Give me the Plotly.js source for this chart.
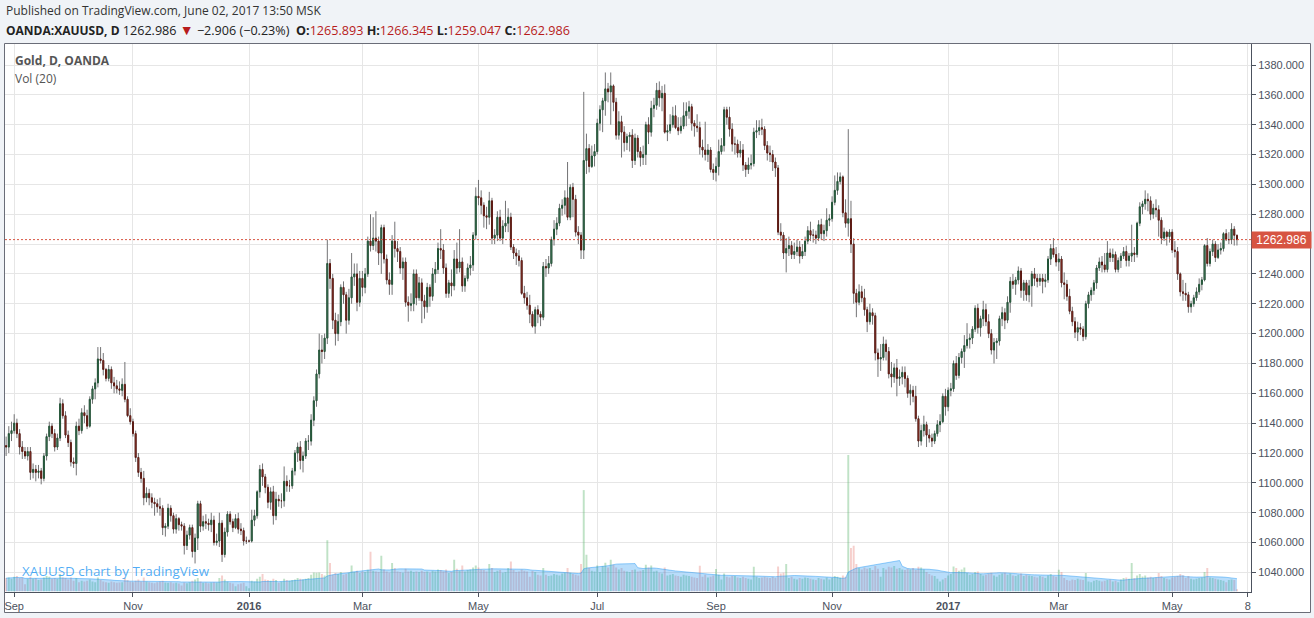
<!DOCTYPE html>
<html><head><meta charset="utf-8">
<script src="https://cdn.plot.ly/plotly-3.0.1.min.js"></script>
<style>html,body{margin:0;padding:0;background:#f0f3f7;}#chart{width:1314px;height:618px;}</style>
</head><body><div id="chart"></div>
<script>
// Daily OANDA XAUUSD bars, 2015-08-27 .. 2017-06-02 (one row per month)
const openP = [
1125,1124,1133,
1135,1140,1133,1124,1121,1118,1121,1107,1109,1107,1108,1103,1118,1131,1138,1133,1124,1130,1153,1145,1132,1127,
1114,1113,1138,1135,1147,1145,1138,1156,1163,1167,1183,1182,1176,1170,1176,1167,1165,1163,1162,1166,1156,1145,
1141,1133,1117,1107,1103,1090,1093,1090,1087,1086,1084,1083,1070,1071,1083,1078,1069,1076,1072,1071,1058,
1065,1070,1054,1063,1086,1071,1074,1073,1072,1075,1060,1061,1073,1052,1067,1079,1074,1070,1076,1069,1068,1061,
1061,1061,1075,1078,1094,1109,1104,1097,1087,1094,1078,1089,1088,1088,1101,1098,1098,1108,1120,1124,1115,
1118,1128,1128,1142,1155,1173,1189,1188,1197,1247,1237,1209,1200,1208,1231,1226,1209,1224,1238,1240,1221,
1237,1231,1240,1262,1259,1264,1262,1254,1271,1250,1236,1233,1262,1257,1255,1244,1248,1221,1219,1220,1240,1224,
1234,1222,1218,1231,1225,1240,1243,1257,1256,1244,1227,1234,1232,1250,1244,1248,1232,1237,1244,1246,1266,
1292,1291,1286,1279,1278,1289,1264,1266,1278,1264,1272,1274,1278,1258,1254,1252,1249,1227,1224,1219,1213,1205,
1216,1213,1211,1245,1244,1247,1263,1270,1274,1284,1286,1291,1278,1298,1290,1268,1266,1256,1316,1324,1312,1319,
1322,1341,1350,1356,1364,1362,1366,1355,1333,1342,1335,1328,1332,1333,1316,1331,1322,1318,1320,1340,1335,
1351,1353,1363,1358,1361,1335,1336,1340,1346,1338,1336,1339,1346,1349,1352,1341,1339,1338,1325,1323,1320,1323,1310,
1308,1312,1322,1326,1350,1345,1337,1327,1327,1321,1323,1313,1310,1313,1314,1335,1336,1338,1337,1326,1321,1320,
1315,1311,1268,1266,1254,1257,1259,1253,1255,1258,1252,1255,1262,1269,1266,1266,1264,1273,1267,1269,1276,
1277,1288,1296,1302,1305,1281,1274,1277,1260,1227,1221,1228,1224,1216,1208,1214,1212,1187,1183,1184,1193,1188,
1173,1171,1177,1170,1171,1174,1170,1160,1162,1158,1143,1128,1135,1139,1132,1130,1128,1133,1139,1141,1158,
1151,1162,1163,1180,1172,1184,1188,1192,1196,1197,1203,1217,1204,1210,1216,1208,1200,1189,1194,1195,1210,
1214,1209,1221,1235,1233,1236,1242,1229,1234,1226,1232,1240,1237,1235,1237,1235,1236,1250,1257,1253,
1248,1250,1234,1233,1225,1215,1208,1201,1204,1203,1198,1220,1226,1229,1234,1244,1248,1246,1243,1254,1251,1253,1243,
1249,1252,1255,1249,1252,1254,1253,1274,1285,1287,1290,1289,1280,1284,1283,1276,1264,1268,1265,
1268,1256,1255,1240,1228,1227,1226,1218,1220,1224,1228,1233,1236,1259,1247,1255,1260,1251,1256,1257,1267,1263,1263,
1270,1265.893];
const highP = [
1131,1138,1141,
1146,1143,1136,1128,1124,1124,1124,1113,1112,1112,1110,1120,1133,1141,1140,1136,1133,1157,1156,1148,1135,1129,
1117,1141,1143,1150,1152,1149,1158,1165,1170,1191,1191,1187,1177,1179,1178,1171,1169,1168,1170,1181,1158,1150,
1143,1135,1120,1110,1108,1097,1096,1093,1090,1089,1090,1085,1073,1086,1085,1080,1079,1077,1074,1073,1068,
1072,1072,1066,1088,1088,1078,1079,1076,1080,1078,1066,1080,1075,1070,1081,1081,1076,1079,1080,1073,1070,1064,
1062,1082,1082,1095,1112,1113,1106,1099,1097,1098,1094,1092,1093,1111,1105,1102,1110,1122,1127,1128,1121,
1130,1132,1146,1158,1176,1200,1199,1200,1263,1250,1240,1214,1213,1233,1235,1228,1230,1254,1247,1247,1242,
1242,1244,1265,1280,1278,1282,1265,1273,1273,1253,1241,1266,1275,1262,1258,1251,1251,1225,1227,1243,1243,1238,
1237,1226,1234,1233,1244,1248,1261,1270,1260,1247,1236,1243,1256,1261,1270,1251,1239,1247,1252,1268,1298,
1303,1296,1288,1285,1295,1291,1270,1282,1283,1276,1289,1284,1281,1260,1257,1256,1251,1232,1228,1226,1215,1218,
1219,1215,1248,1250,1252,1265,1276,1278,1287,1290,1296,1315,1300,1301,1293,1272,1268,1362,1334,1327,1326,1327,
1344,1353,1358,1375,1368,1375,1367,1358,1349,1346,1339,1334,1335,1337,1334,1333,1325,1326,1342,1345,1356,
1358,1368,1369,1366,1367,1340,1347,1352,1353,1345,1345,1355,1355,1356,1354,1343,1347,1342,1330,1342,1327,1325,1314,
1318,1330,1331,1352,1352,1352,1341,1332,1330,1329,1327,1315,1318,1320,1338,1343,1343,1344,1339,1329,1326,1323,
1318,1313,1274,1268,1264,1265,1262,1261,1263,1262,1260,1265,1272,1275,1270,1269,1276,1277,1273,1284,1280,
1292,1306,1308,1308,1306,1290,1337,1289,1264,1230,1233,1232,1230,1218,1220,1217,1214,1190,1193,1198,1196,1191,
1181,1180,1183,1176,1178,1178,1172,1166,1165,1165,1145,1139,1145,1141,1136,1133,1135,1142,1146,1160,1163,
1164,1167,1182,1185,1187,1190,1199,1207,1200,1205,1219,1220,1212,1222,1220,1213,1203,1197,1197,1212,1218,
1217,1225,1238,1240,1238,1245,1244,1236,1236,1236,1242,1244,1240,1240,1240,1240,1252,1260,1264,1258,
1254,1252,1241,1236,1230,1218,1211,1208,1207,1205,1222,1228,1231,1236,1246,1251,1252,1254,1262,1257,1257,1255,1251,
1254,1258,1259,1254,1273,1258,1275,1288,1289,1296,1294,1292,1287,1290,1286,1278,1271,1269,1270,
1270,1262,1258,1241,1236,1234,1228,1222,1226,1231,1237,1238,1260,1264,1257,1263,1262,1260,1261,1268,1270,1268,1274,
1272,1266.345];
const lowP = [
1118,1120,1128,
1133,1130,1119,1116,1116,1115,1102,1103,1101,1103,1099,1101,1115,1128,1130,1121,1122,1128,1143,1130,1124,1111,
1110,1105,1132,1133,1140,1136,1137,1153,1156,1164,1180,1172,1168,1168,1163,1160,1160,1159,1158,1154,1144,1139,
1131,1114,1104,1100,1085,1087,1085,1083,1078,1080,1078,1065,1064,1069,1074,1066,1066,1068,1068,1052,1055,
1062,1050,1046,1055,1067,1068,1069,1068,1067,1058,1058,1057,1047,1050,1064,1072,1067,1069,1066,1065,1058,1059,
1060,1060,1071,1076,1090,1098,1093,1083,1082,1072,1075,1084,1083,1084,1094,1094,1096,1105,1114,1109,1107,
1116,1122,1125,1138,1151,1170,1180,1183,1193,1230,1203,1192,1195,1205,1220,1200,1206,1220,1232,1215,1218,
1225,1227,1238,1255,1256,1255,1246,1240,1247,1233,1226,1226,1251,1248,1240,1236,1218,1208,1215,1215,1219,1222,
1207,1210,1214,1218,1222,1234,1240,1250,1240,1224,1224,1225,1229,1240,1241,1228,1228,1235,1239,1242,1263,
1286,1280,1271,1270,1273,1260,1260,1262,1262,1260,1268,1268,1256,1250,1246,1245,1226,1220,1216,1207,1204,1200,
1207,1205,1209,1238,1240,1245,1259,1266,1272,1279,1280,1276,1276,1278,1265,1260,1250,1250,1307,1308,1311,1312,
1320,1336,1335,1346,1355,1340,1349,1330,1330,1318,1322,1323,1322,1311,1313,1318,1312,1313,1313,1327,1332,
1345,1350,1352,1349,1334,1329,1334,1338,1337,1333,1334,1337,1339,1344,1336,1332,1335,1320,1318,1316,1315,1308,1303,
1302,1306,1320,1322,1340,1332,1322,1320,1318,1318,1309,1305,1307,1310,1312,1331,1333,1333,1323,1316,1315,1309,
1305,1266,1262,1250,1241,1252,1250,1250,1252,1247,1250,1252,1260,1262,1261,1260,1262,1263,1262,1265,1272,
1275,1286,1293,1300,1278,1271,1265,1254,1220,1211,1219,1221,1212,1201,1206,1206,1182,1171,1175,1182,1182,1170,
1164,1167,1158,1165,1166,1164,1157,1152,1154,1141,1124,1125,1131,1124,1127,1124,1126,1131,1134,1140,1145,
1148,1158,1161,1169,1170,1180,1177,1190,1190,1193,1201,1200,1198,1205,1205,1197,1186,1180,1183,1192,1205,
1203,1207,1214,1230,1226,1233,1224,1222,1222,1221,1218,1232,1231,1232,1227,1231,1234,1246,1251,1245,
1242,1231,1223,1222,1213,1205,1197,1195,1199,1195,1196,1217,1222,1226,1230,1242,1241,1241,1241,1248,1248,1241,1241,
1244,1250,1245,1245,1248,1248,1251,1272,1280,1283,1282,1276,1277,1278,1265,1260,1262,1259,1261,
1254,1251,1236,1225,1222,1222,1214,1214,1218,1222,1226,1229,1235,1245,1245,1252,1248,1250,1253,1255,1262,1260,1260,
1259,1259.047];
const closeP = [
1124,1133,1135,
1140,1133,1124,1121,1118,1121,1107,1109,1107,1108,1103,1118,1131,1138,1133,1124,1130,1153,1145,1132,1127,1114,
1113,1138,1135,1147,1145,1138,1156,1163,1167,1183,1182,1176,1170,1176,1167,1165,1163,1162,1166,1156,1145,1141,
1133,1117,1107,1103,1090,1093,1090,1087,1086,1084,1083,1070,1071,1083,1078,1069,1076,1072,1071,1058,1065,
1070,1054,1063,1086,1071,1074,1073,1072,1075,1060,1061,1073,1052,1067,1079,1074,1070,1076,1069,1068,1061,1061,
1061,1075,1078,1094,1109,1104,1097,1087,1094,1078,1089,1088,1088,1101,1098,1098,1108,1120,1124,1115,1118,
1128,1128,1142,1155,1173,1189,1188,1197,1247,1237,1209,1200,1208,1231,1226,1209,1224,1238,1240,1221,1237,
1231,1240,1262,1259,1264,1262,1254,1271,1250,1236,1233,1262,1257,1255,1244,1248,1221,1219,1220,1240,1224,1234,
1222,1218,1231,1225,1240,1243,1257,1256,1244,1227,1234,1232,1250,1244,1248,1232,1237,1244,1246,1266,1292,
1291,1286,1279,1278,1289,1264,1266,1278,1264,1272,1274,1278,1258,1254,1252,1249,1227,1224,1219,1213,1205,1216,
1213,1211,1245,1244,1247,1263,1270,1274,1284,1286,1291,1278,1298,1290,1268,1266,1256,1316,1324,1312,1319,1322,
1341,1350,1356,1364,1362,1366,1355,1333,1342,1335,1328,1332,1333,1316,1331,1322,1318,1320,1340,1335,1351,
1353,1363,1358,1361,1335,1336,1340,1346,1338,1336,1339,1346,1349,1352,1341,1339,1338,1325,1323,1320,1323,1310,1308,
1312,1322,1326,1350,1345,1337,1327,1327,1321,1323,1313,1310,1313,1314,1335,1336,1338,1337,1326,1321,1320,1315,
1311,1268,1266,1254,1257,1259,1253,1255,1258,1252,1255,1262,1269,1266,1266,1264,1273,1267,1269,1276,1277,
1288,1296,1302,1305,1281,1274,1277,1260,1227,1221,1228,1224,1216,1208,1214,1212,1187,1183,1184,1193,1188,1173,
1171,1177,1170,1171,1174,1170,1160,1162,1158,1143,1128,1135,1139,1132,1130,1128,1133,1139,1141,1158,1151,
1162,1163,1180,1172,1184,1188,1192,1196,1197,1203,1217,1204,1210,1216,1208,1200,1189,1194,1195,1210,1214,
1209,1221,1235,1233,1236,1242,1229,1234,1226,1232,1240,1237,1235,1237,1235,1236,1250,1257,1253,1248,
1250,1234,1233,1225,1215,1208,1201,1204,1203,1198,1220,1226,1229,1234,1244,1248,1246,1243,1254,1251,1253,1243,1249,
1252,1255,1249,1252,1254,1253,1274,1285,1287,1290,1289,1280,1284,1283,1276,1264,1268,1265,1268,
1256,1255,1240,1228,1227,1226,1218,1220,1224,1228,1233,1236,1259,1247,1255,1260,1251,1256,1257,1267,1263,1263,1270,
1265.892,1262.986];
// Volume, thousands
const volumeK = [
40,42,38,
44,46,40,42,22,38,44,38,40,34,36,42,46,44,38,40,38,52,42,40,36,42,
32,40,28,32,30,32,36,30,28,42,34,30,28,26,30,28,26,27,28,40,34,30,
28,32,36,30,42,30,28,26,25,28,30,32,27,26,28,25,26,24,18,27,25,
28,32,36,40,30,26,27,25,27,28,27,40,48,36,30,26,24,16,22,24,26,16,
10,32,30,38,44,52,36,34,32,38,34,26,30,38,34,32,34,36,40,38,36,
38,40,50,57,56,57,52,48,153,85,50,55,52,58,50,52,56,78,58,62,55,
60,58,65,119,62,60,58,107,66,60,56,85,70,60,58,56,68,60,62,58,60,58,
62,58,60,56,62,60,66,64,60,66,55,58,95,68,62,78,60,64,66,72,78,
72,66,64,60,82,70,58,62,64,56,58,70,90,64,58,60,66,62,60,44,62,58,
50,48,70,50,46,48,52,50,48,54,56,70,56,52,50,48,82,303,110,70,62,60,
78,58,76,86,72,95,80,72,66,70,62,60,58,64,66,60,62,64,80,72,78,
60,62,56,54,72,48,50,52,48,46,44,50,48,46,44,42,40,77,44,50,42,44,48,
67,50,36,54,44,42,46,46,42,40,44,40,38,36,74,44,40,42,44,42,40,44,
40,75,54,56,82,40,44,38,36,40,38,42,40,38,36,34,40,38,36,42,36,
40,46,44,42,48,44,408,130,137,82,70,66,72,68,70,64,76,68,44,70,66,74,
72,76,68,70,66,64,68,66,70,64,74,72,66,58,52,48,46,38,30,36,40,
48,52,75,70,62,66,72,55,50,52,58,60,52,48,50,54,56,48,44,50,54,
56,50,54,48,46,50,54,46,50,48,46,44,42,46,44,40,48,52,46,44,
65,58,40,34,32,36,34,38,36,34,55,30,28,32,34,32,30,32,34,36,30,32,28,
36,40,42,38,85,40,48,52,45,48,42,44,40,42,55,46,40,38,36,
42,44,46,52,48,40,46,38,36,38,40,42,58,70,42,40,38,36,34,32,28,34,36,
34,7];
const firstDay = '2015-08-27';
const holidays = ['2015-12-25','2016-03-25','2016-12-26','2017-01-02','2017-04-14'];
const tickDates = ['2015-09-01','2015-11-02','2016-01-01','2016-03-01','2016-05-02','2016-07-01','2016-09-01','2016-11-01','2017-01-03','2017-03-01','2017-05-01','2017-06-08'];
const tickLabels = ['Sep','Nov','<b>2016</b>','Mar','May','Jul','Sep','Nov','<b>2017</b>','Mar','May','8'];
const symbolName = 'OANDA:XAUUSD, D';
const publishedText = 'Published on TradingView.com, June 02, 2017 13:50 MSK';

function tradingDays(start, count) {
  const out = []; const d = new Date(start + 'T00:00:00Z');
  while (out.length < count) {
    const s = d.toISOString().slice(0, 10), wd = d.getUTCDay();
    if (wd !== 0 && wd !== 6 && holidays.indexOf(s) < 0) out.push(s);
    d.setUTCDate(d.getUTCDate() + 1);
  }
  return out;
}
const days = tradingDays(firstDay, closeP.length + 6);
const xs = closeP.map((_, i) => i);
const tickvals = tickDates.map(d => days.indexOf(d));
const isUp = closeP.map((c, i) => c >= openP[i]);
const bodyHigh = openP.map((o, i) => Math.max(o, closeP[i]));
const bodyLow = openP.map((o, i) => Math.min(o, closeP[i]));
const volMA = volumeK.map((_, i) => { const seg = volumeK.slice(Math.max(0, i - 19), i + 1); return seg.reduce((a, b) => a + b, 0) / seg.length; });

const N = closeP.length;
const last = { o: openP[N-1], h: highP[N-1], l: lowP[N-1], c: closeP[N-1] };
const chg = last.c - closeP[N-2];
const pct = chg / closeP[N-2] * 100;
const red = '#b71c1c';
const fmt = v => v.toFixed(3);
const minus = s => s.replace('-', '\u2212');
const sp = '\u00a0';

const W = 1314, H = 618;
const px = v => v / W, py = v => 1 - v / H;
const tickFont = { family: 'Liberation Sans, Arial, sans-serif', size: 11, color: '#4c525e' };

const traces = [
  { type: 'bar', x: xs, y: volumeK, yaxis: 'y', xaxis: 'x', width: 0.72,
    marker: { color: isUp.map(u => u ? 'rgba(102,187,120,0.42)' : 'rgba(229,115,105,0.34)') },
    hoverinfo: 'skip', showlegend: false },
  { type: 'scatter', mode: 'lines', x: xs, y: volMA, yaxis: 'y', xaxis: 'x', fill: 'tozeroy',
    fillcolor: 'rgba(33,150,243,0.32)', line: { color: 'rgba(33,150,243,0.45)', width: 1 },
    hoverinfo: 'skip', showlegend: false },
  { type: 'candlestick', x: xs, open: openP, high: highP, low: lowP, close: closeP, xaxis: 'x', yaxis: 'y2',
    increasing: { line: { color: '#737375', width: 1 }, fillcolor: 'rgba(0,0,0,0)' },
    decreasing: { line: { color: '#737375', width: 1 }, fillcolor: 'rgba(0,0,0,0)' },
    whiskerwidth: 0, hoverinfo: 'skip', showlegend: false },
  { type: 'candlestick', x: xs, open: openP, high: bodyHigh, low: bodyLow, close: closeP, xaxis: 'x', yaxis: 'y2',
    increasing: { line: { color: '#225437', width: 1 }, fillcolor: '#6ba583' },
    decreasing: { line: { color: '#5b1a13', width: 1 }, fillcolor: '#d75442' },
    whiskerwidth: 0, hoverinfo: 'skip', showlegend: false }
];

const header2 = '<span style="font-size:12px"><b>' + symbolName + '</b></span>' + sp + fmt(last.c) + sp +
  '<span style="color:' + red + ';font-size:14px">\u25BC</span>' + sp + minus(chg.toFixed(3)) + ' (' + minus(pct.toFixed(2)) + '%)' + sp + sp +
  ['O', 'H', 'L', 'C'].map((k, i) => '<b>' + k + ':</b><span style="color:' + red + '">' + fmt([last.o, last.h, last.l, last.c][i]) + '</span>').join(sp);

const layout = {
  width: W, height: H, margin: { l: 0, r: 0, t: 0, b: 0 },
  paper_bgcolor: '#f0f3f7', plot_bgcolor: '#ffffff', showlegend: false, boxgap: 0.5, dragmode: false,
  xaxis: { domain: [px(5), px(1251)], range: [-0.41, 461.2], tickmode: 'array', tickvals: tickvals, ticktext: tickLabels,
    showgrid: true, gridcolor: '#e6e6e6', zeroline: false, showline: true, linecolor: '#4c525e', linewidth: 1,
    ticks: 'outside', ticklen: 4, tickcolor: '#4c525e', tickfont: tickFont, rangeslider: { visible: false }, fixedrange: true },
  yaxis: { domain: [py(591.5), py(44)], range: [0, 1636], visible: false, fixedrange: true },
  yaxis2: { overlaying: 'y', side: 'right', anchor: 'x', range: [1027.2, 1394.07], tick0: 1040, dtick: 20, tickformat: '.3f',
    showgrid: true, gridcolor: '#e6e6e6', zeroline: false, showline: true, linecolor: '#4c525e', linewidth: 1,
    ticks: 'outside', ticklen: 4, tickcolor: '#4c525e', tickfont: tickFont, fixedrange: true },
  shapes: [
    { type: 'rect', xref: 'paper', yref: 'paper', x0: px(4.5), x1: px(1310.5), y0: py(612.5), y1: py(43.5),
      fillcolor: '#ffffff', line: { color: '#6a6d78', width: 1 }, layer: 'below' },
    { type: 'line', xref: 'paper', yref: 'y2', x0: px(5), x1: px(1251), y0: last.c, y1: last.c,
      line: { color: '#d75442', width: 1, dash: '2px,2px' } }
  ],
  annotations: [
    { xref: 'paper', yref: 'paper', x: px(4), y: py(11), xanchor: 'left', yanchor: 'middle', showarrow: false,
      text: publishedText, font: { family: 'Open Sans, sans-serif', size: 12, color: '#333333' } },
    { xref: 'paper', yref: 'paper', x: px(4), y: py(29), xanchor: 'left', yanchor: 'middle', showarrow: false,
      text: header2, font: { family: 'Open Sans, sans-serif', size: 12.6, color: '#222222' } },
    { xref: 'paper', yref: 'paper', x: px(13), y: py(61), xanchor: 'left', yanchor: 'middle', showarrow: false,
      text: '<b>Gold, D, OANDA</b>', font: { family: 'Open Sans, sans-serif', size: 12, color: '#555555' } },
    { xref: 'paper', yref: 'paper', x: px(13), y: py(79), xanchor: 'left', yanchor: 'middle', showarrow: false,
      text: 'Vol (20)', font: { family: 'Open Sans, sans-serif', size: 12, color: '#555555' } },
    { xref: 'paper', yref: 'paper', x: px(20), y: py(571), xanchor: 'left', yanchor: 'middle', showarrow: false,
      text: 'XAUUSD chart by TradingView', font: { family: 'Open Sans, sans-serif', size: 13.4, color: 'rgba(33,150,243,0.78)' } },
    { xref: 'paper', yref: 'y2', x: px(1251), y: last.c, xanchor: 'left', yanchor: 'middle', showarrow: false,
      text: fmt(last.c), bgcolor: '#d75442', borderpad: 2, width: 55, height: 12,
      font: { family: 'Liberation Sans, Arial, sans-serif', size: 12, color: '#ffffff' } }
  ]
};

Plotly.newPlot('chart', traces, layout, { displayModeBar: false, staticPlot: true });
</script>
</body></html>
